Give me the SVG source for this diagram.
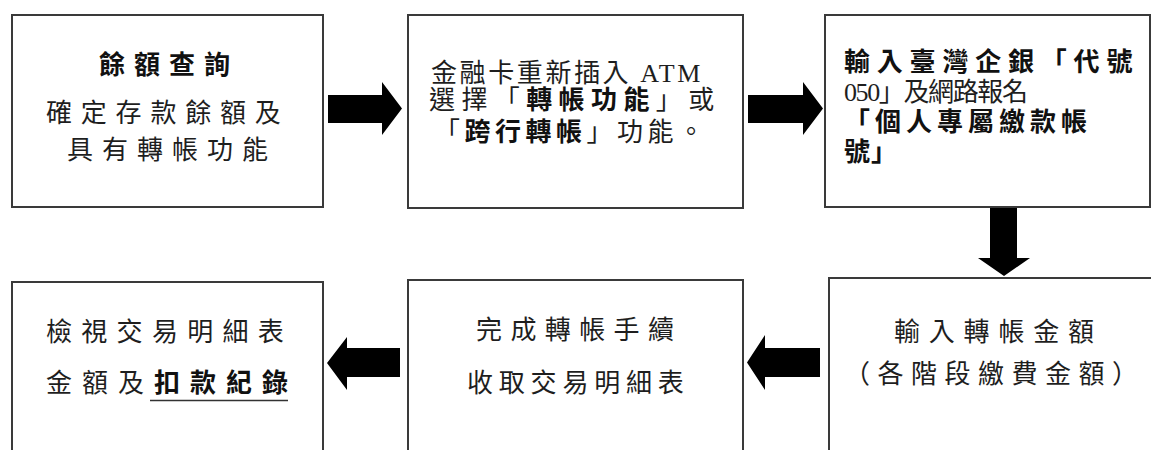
<svg xmlns="http://www.w3.org/2000/svg" width="1151" height="450" viewBox="0 0 1151 450">
  <style>
    .box { fill: #ffffff; stroke: #3a3a3a; stroke-width: 2; }
    .t { font-family: "Liberation Serif", "Noto Sans CJK TC", serif; font-size: 26px; fill: #1e1e1e; }
    .b { font-weight: bold; fill: #111; }
    .arrow { fill: #000; stroke: none; }
  </style>
  <rect width="1151" height="450" fill="#ffffff"/>

  <g id="node-balance">
    <rect class="box" x="12" y="15" width="311" height="192"/>
    <text class="t b" x="99" y="74" letter-spacing="9">餘額查詢</text>
    <text class="t" x="46" y="122" letter-spacing="8.8">確定存款餘額及</text>
    <text class="t" x="67" y="159" letter-spacing="9">具有轉帳功能</text>
  </g>

  <g id="node-insert">
    <rect class="box" x="408" y="15" width="335" height="193"/>
    <text class="t" x="431" y="82" letter-spacing="2.6">金融卡重新插入 ATM</text>
    <text class="t" x="429" y="109" letter-spacing="6.4">選擇「<tspan class="b">轉帳功能</tspan>」或</text>
    <text class="t" x="434" y="141" letter-spacing="4.5">「<tspan class="b">跨行轉帳</tspan>」功能。</text>
  </g>

  <g id="node-code">
    <rect class="box" x="825" y="15" width="325" height="192"/>
    <text class="t b" x="844" y="71" letter-spacing="6.8">輸入臺灣企銀「代號</text>
    <text class="t" x="844" y="101" textLength="184" lengthAdjust="spacing">050」及網路報名</text>
    <text class="t b" x="844" y="131" letter-spacing="5">「個人專屬繳款帳</text>
    <text class="t b" x="844" y="161" letter-spacing="1">號」</text>
  </g>

  <g id="node-amount">
    <rect class="box" x="829" y="278" width="340" height="190"/>
    <text class="t" x="894" y="341" letter-spacing="8.8">輸入轉帳金額</text>
    <text class="t" x="844" y="383" letter-spacing="7.5">（各階段繳費金額）</text>
  </g>

  <g id="node-complete">
    <rect class="box" x="408" y="280" width="335" height="190"/>
    <text class="t" x="476" y="339" letter-spacing="8.4">完成轉帳手續</text>
    <text class="t" x="467" y="392" letter-spacing="5.8">收取交易明細表</text>
  </g>

  <g id="node-review">
    <rect class="box" x="12" y="282" width="311" height="190"/>
    <text class="t" x="46" y="341" letter-spacing="9.3">檢視交易明細表</text>
    <text class="t" x="46" y="392" letter-spacing="10">金額及<tspan class="b">扣款紀錄</tspan></text>
    <line x1="150" y1="400.5" x2="288" y2="400.5" stroke="#333" stroke-width="1.5"/>
  </g>

  <g id="connectors">
    <polygon class="arrow" points="328,95 382,95 382,82 402,108.5 382,135 382,123 328,123"/>
    <polygon class="arrow" points="748,95 803,95 803,82 823,108.5 803,135 803,123 748,123"/>
    <polygon class="arrow" points="990,208 1017,208 1017,258 1030,258 1004,276 978,258 990,258"/>
    <polygon class="arrow" points="820,348 765,348 765,335 747,362.5 765,390 765,377 820,377"/>
    <polygon class="arrow" points="400,348 347,348 347,337 327,363 347,390 347,377 400,377"/>
  </g>
</svg>
